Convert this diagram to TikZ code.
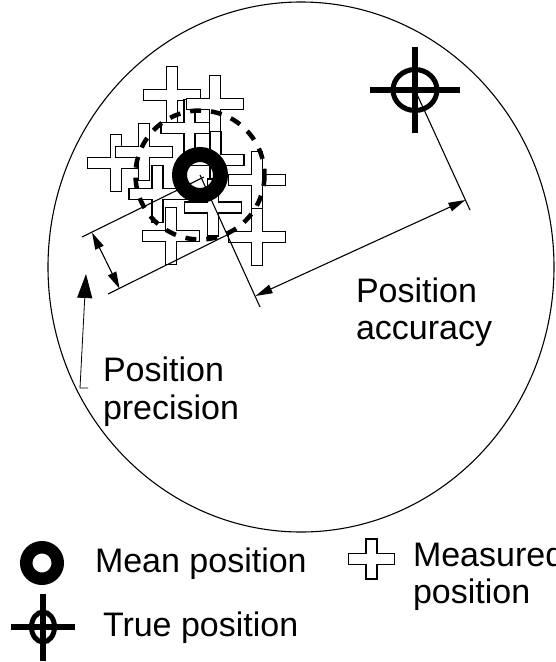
\documentclass[tikz,border=0pt]{standalone}
\usepackage{fontspec}
\setmainfont{Liberation Sans}
\usetikzlibrary{arrows.meta}

% measured-position cross: centre, half width, half height, half arm thickness
\newcommand\meascross[4]{%
  \begin{scope}[shift={(#1)}]
    \draw[crossline] (-#4,-#3) -- (#4,-#3) -- (#4,-#4) -- (#2,-#4) -- (#2,#4)
      -- (#4,#4) -- (#4,#3) -- (-#4,#3) -- (-#4,#4) -- (-#2,#4) -- (-#2,-#4)
      -- (-#4,-#4) -- cycle;
  \end{scope}}

\tikzset{
  every node/.style={inner sep=0pt, outer sep=0pt},
  labeltext/.style={anchor=base west, font=\fontsize{34}{38}\selectfont},
  thinline/.style={line width=1.1pt},
  dimarrow/.style={line width=1.1pt,
    {Triangle[length=17pt,width=9pt]}-{Triangle[length=17pt,width=9pt]}},
  leaderline/.style={line width=0.8pt, -{Triangle[length=24pt,width=15pt]}},
  crossline/.style={draw=black, fill=white, line width=1.3pt, line join=miter},
  spread/.style={line width=4.5pt, dash pattern=on 11pt off 10pt},
  truebar/.style={line width=6pt},
  truering/.style={line width=5pt},
}

\begin{document}
\begin{tikzpicture}[x=1pt, y=-1pt]
  \useasboundingbox (0,0) rectangle (555,662);

  % key points
  \coordinate (O) at (301,267);
  \coordinate (M) at (200,175);
  \coordinate (T) at (415,90);
  \coordinate (mEnd) at (260,307);
  \coordinate (tEnd) at (470,210);
  \coordinate (accA) at (255.5,296);
  \coordinate (accB) at (465.4,200);
  \coordinate (pU1) at (82,237);
  \coordinate (pU2) at (204,177);
  \coordinate (pL1) at (108,294);
  \coordinate (pL2) at (227,235);
  \coordinate (prA) at (92,232.5);
  \coordinate (prB) at (119.6,288.7);
  \coordinate (ldA) at (88,388);
  \coordinate (ldB) at (80,388);
  \coordinate (ldT) at (86,274);

  % outer ellipse
  \draw[thinline] (O) ellipse[x radius=253, y radius=265];

  % scattered measured positions
  \meascross{116,163}{28.5}{28.5}{5.5}
  \meascross{144,152}{28.5}{28.5}{5.5}
  \meascross{172,95}{28.5}{28.5}{5.5}
  \meascross{189.5,128}{28.5}{28.5}{5.5}
  \meascross{215,104}{28.5}{28.5}{5.5}
  \meascross{215.5,160}{28.5}{28.5}{5.5}
  \meascross{257,180}{28.5}{28.5}{5.5}
  \meascross{157.5,194}{28.5}{28.5}{5.5}
  \meascross{213,207.5}{28.5}{28.5}{5.5}
  \meascross{171,236}{28.5}{28.5}{5.5}
  \meascross{257,237}{28.5}{28.5}{5.5}

  % extension lines
  \draw[thinline] (pU1) -- (pU2);
  \draw[thinline] (pL1) -- (pL2);
  \draw[thinline] (M) -- (mEnd);
  \draw[thinline] (T) -- (tEnd);

  % spread of the measurements
  \draw[spread] (M) circle[radius=64.5];

  % mean position
  \draw[line width=15pt] (M) circle[radius=20.5];

  % true position
  \draw[truebar] (370,90) -- (460,90);
  \draw[truebar] (415,47) -- (415,133);
  \draw[truering] (T) ellipse[x radius=22, y radius=20.5];

  % dimension arrows
  \draw[dimarrow] (accA) -- (accB);
  \draw[dimarrow] (prA) -- (prB);
  \draw[leaderline] (ldA) -- (ldB) -- (ldT);

  % labels
  \node[labeltext] (accL1) at (356,302) {Position};
  \node[labeltext] (accL2) at (356,339) {accuracy};
  \node[labeltext] (preL1) at (103,381) {Position};
  \node[labeltext] (preL2) at (103,419) {precision};

  % legend
  \draw[line width=12.5pt] (42,563) circle[radius=15.75];
  \node[labeltext] (meanL) at (95,572) {Mean position};
  \meascross{371.5,559}{23}{20}{5.5}
  \node[labeltext] (measL1) at (413,566) {Measured};
  \node[labeltext] (measL2) at (413,603) {position};
  \draw[truebar] (11,627) -- (75,627);
  \draw[truebar] (43,594) -- (43,661);
  \draw[truering] (43,627) ellipse[x radius=11.5, y radius=15];
  \node[labeltext] (trueL) at (103,636) {True position};
\end{tikzpicture}
\end{document}
